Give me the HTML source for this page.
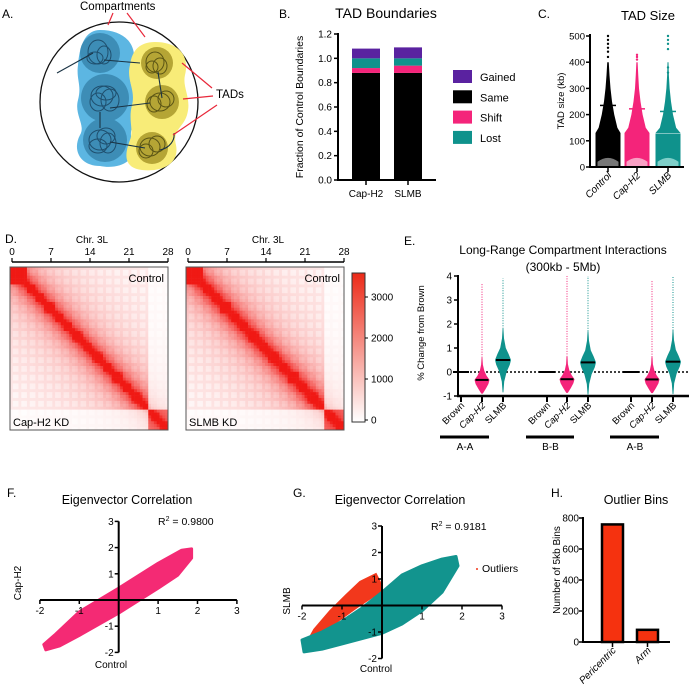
<!DOCTYPE html>
<html><head><meta charset="utf-8">
<style>
html,body{margin:0;padding:0;background:#fff;}
svg{display:block;font-family:"Liberation Sans",sans-serif;}
</style></head>
<body>
<svg id="fig" width="689" height="689" viewBox="0 0 689 689" xmlns="http://www.w3.org/2000/svg">
<g>
  <text x="2" y="18" font-size="12">A.</text>
  <text x="80" y="10" font-size="11.5">Compartments</text>
  <ellipse cx="119" cy="102" rx="79" ry="80" fill="none" stroke="#111" stroke-width="1.3"/>
  <path d="M100,30 C125,30 140,45 132,70 C125,85 140,95 138,110 C136,125 128,128 132,140 C140,160 120,170 100,166 C80,166 72,150 80,135 C86,125 74,115 78,100 C82,85 76,80 78,65 C80,40 88,30 100,30 Z" fill="#5cb6e2"/>
  <path d="M155,42 C178,42 190,55 185,75 C182,88 192,98 187,115 C183,128 172,130 176,145 C180,165 160,172 142,170 C124,168 124,155 130,140 C134,130 128,120 132,105 C136,90 126,80 130,65 C132,50 140,42 155,42 Z" fill="#f8ec78"/>
  <circle cx="100" cy="53" r="20" fill="#3d8db6"/>
  <circle cx="105" cy="98" r="24" fill="#3d8db6"/>
  <circle cx="105" cy="140" r="22" fill="#3d8db6"/>
  <circle cx="157" cy="63" r="16" fill="#b5a535"/>
  <circle cx="162" cy="102" r="17" fill="#b5a535"/>
  <circle cx="152" cy="148" r="16" fill="#b5a535"/>
  <g fill="none" stroke="#1f4f6e" stroke-width="1">
    <ellipse cx="98" cy="52" rx="10" ry="12"/><ellipse cx="104" cy="55" rx="7" ry="9"/><ellipse cx="95" cy="58" rx="8" ry="6"/>
    <ellipse cx="102" cy="96" rx="11" ry="10"/><ellipse cx="110" cy="100" rx="9" ry="11"/><ellipse cx="98" cy="102" rx="8" ry="9"/><ellipse cx="106" cy="93" rx="10" ry="7"/>
    <ellipse cx="100" cy="140" rx="11" ry="10"/><ellipse cx="108" cy="143" rx="8" ry="10"/><ellipse cx="98" cy="146" rx="9" ry="7"/><ellipse cx="106" cy="136" rx="9" ry="8"/>
  </g>
  <g fill="none" stroke="#5b5515" stroke-width="1">
    <ellipse cx="155" cy="62" rx="9" ry="10"/><ellipse cx="160" cy="66" rx="7" ry="8"/><ellipse cx="152" cy="67" rx="6" ry="6"/>
    <ellipse cx="160" cy="102" rx="10" ry="9"/><ellipse cx="166" cy="99" rx="8" ry="8"/><ellipse cx="154" cy="104" rx="7" ry="8"/>
    <ellipse cx="150" cy="147" rx="10" ry="9"/><ellipse cx="157" cy="144" rx="8" ry="8"/><ellipse cx="146" cy="151" rx="7" ry="7"/>
  </g>
  <path d="M57,73 L93,53 M104,60 L140,63 M158,72 L162,98 M150,103 L110,108 M100,112 L100,128 M110,142 L145,148 M160,150 C170,148 175,140 174,133" fill="none" stroke="#1a3344" stroke-width="1.1"/>
  <g stroke="#e8283a" stroke-width="1.2">
    <line x1="113" y1="13" x2="108" y2="25"/><line x1="127" y1="13" x2="145" y2="37"/>
    <line x1="182" y1="63" x2="212" y2="88"/><line x1="183" y1="99" x2="213" y2="96"/><line x1="173" y1="135" x2="217" y2="105"/>
  </g>
  <text x="216" y="98" font-size="11.5">TADs</text>
</g>

<g id="panelB">
  <text x="279" y="18" font-size="12">B.</text>
  <text x="386" y="18" font-size="14" text-anchor="middle">TAD Boundaries</text>
  <text transform="translate(303,107) rotate(-90)" font-size="10.5" text-anchor="middle">Fraction of Control Boundaries</text>
</g>
<g id="panelC">
  <text x="538" y="18" font-size="12">C.</text>
  <text x="648" y="20" font-size="13" text-anchor="middle">TAD Size</text>
  <text transform="translate(564,101) rotate(-90)" font-size="9.5" text-anchor="middle">TAD size (kb)</text>
</g>
<g id="panelD">
  <text x="5" y="243" font-size="12">D.</text>
</g>
<g id="panelE">
  <text x="404" y="245" font-size="12">E.</text>
  <text x="563" y="254" font-size="12" text-anchor="middle">Long-Range Compartment Interactions</text>
  <text x="563" y="271" font-size="12" text-anchor="middle">(300kb - 5Mb)</text>
  <text transform="translate(424,333) rotate(-90)" font-size="9.5" text-anchor="middle">% Change from Brown</text>
</g>
<g id="panelF">
  <text x="7" y="497" font-size="12">F.</text>
  <text x="127" y="504" font-size="12.5" text-anchor="middle">Eigenvector Correlation</text>
</g>
<g id="panelG">
  <text x="293" y="497" font-size="12">G.</text>
  <text x="400" y="504" font-size="12.5" text-anchor="middle">Eigenvector Correlation</text>
</g>
<g id="panelH">
  <text x="551" y="497" font-size="12">H.</text>
  <text x="636" y="504" font-size="12.5" text-anchor="middle">Outlier Bins</text>
  <text transform="translate(560,570) rotate(-90)" font-size="10" text-anchor="middle">Number of 5kb Bins</text>
</g>
</svg>
<script>
const NS='http://www.w3.org/2000/svg';
// ---------- data ----------
const bCategories=['Cap-H2','SLMB'];
const bSame=[0.88,0.88];
const bShift=[0.04,0.06];
const bLost=[0.08,0.06];
const bGained=[0.08,0.09];
const bTicks=[0,0.2,0.4,0.6,0.8,1.0,1.2];
const bLegend=['Gained','Same','Shift','Lost'];

const cCategories=['Control','Cap-H2','SLMB'];
const cMedian=[130,130,128];
const cSD=[235,222,212];
const cDensVals=[130,150,200,250,300,350,400];
const cDensW=[[1,0.75,0.5,0.32,0.2,0.12,0.06],[1,0.7,0.45,0.28,0.16,0.1,0.05],[1,0.65,0.4,0.24,0.13,0.07,0.04]];
const cOutliers=[[420,440,455,470,485,500],[410,420,428],[360,380,450,470,485,500]];
const cTicks=[0,100,200,300,400,500];

const dTicks=[0,7,14,21,28];
const dTadBounds=[0,3,6,9,12,16,19,22,26,29,33,36,40,43,47,50,53,56];
const dCbarTicks=[0,1000,2000,3000];

const eGroups=['A-A','B-B','A-B'];
const eConds=['Brown','Cap-H2','SLMB'];
const eMedCap=[-0.33,-0.3,-0.31];
const eMedSlmb=[0.5,0.4,0.43];
const eCapMax=[3.7,4.0,3.8];
const eSlmbMax=[3.9,4.0,4.0];
const eViolinCapVals=[-0.9,-0.7,-0.5,-0.33,-0.15,0.05,0.3,0.6];
const eViolinCapDens=[0.1,0.5,0.85,1,0.6,0.3,0.12,0.06];
const eViolinSlmbVals=[-0.85,-0.4,0,0.3,0.5,0.75,1.0,1.4,1.8];
const eViolinSlmbDens=[0.05,0.15,0.45,0.85,1,0.7,0.35,0.12,0.05];
const eTicks=[-1,0,1,2,3,4];

const fUpperX=[-1.9,-1.6,-1,0,1,1.6,1.85];
const fUpperY=[-1.7,-1.3,-0.45,0.45,1.4,1.9,1.95];
const fLowerX=[-1.85,-1.5,-1,0,1,1.5,1.85];
const fLowerY=[-1.9,-1.75,-1.35,-0.5,0.45,0.95,1.6];
const gTealUpperX=[-2,-1.5,-1,-0.5,0,0.5,1,1.5,1.85];
const gTealUpperY=[-1.3,-1.0,-0.6,-0.1,0.5,1.15,1.5,1.75,1.85];
const gTealLowerX=[-1.95,-1.5,-1,0,0.5,1,1.5,1.9];
const gTealLowerY=[-1.75,-1.65,-1.45,-1.05,-0.7,-0.2,0.5,1.5];
const gRedX=[-1.9,-1.7,-1.3,-0.9,-0.55,-0.15,-0.05,0,-0.6,-1.2,-1.7];
const gRedY=[-1.45,-0.9,-0.2,0.4,0.9,1.2,0.9,0.55,-0.05,-0.7,-1.2];
const sTicks=[-2,-1,1,2,3];

const hCategories=['Pericentric','Arm'];
const hValues=[765,85];
const hTicks=[0,200,400,600,800];

// ---------- helpers ----------
function el(tag,attrs,parent){const e=document.createElementNS(NS,tag);for(const k in attrs)e.setAttribute(k,attrs[k]);(parent||svg).appendChild(e);return e;}
function txt(s,attrs,parent){const e=el('text',attrs,parent);e.textContent=s;return e;}
const svg=document.getElementById('fig');

// ---------- Panel B ----------
(function(){
const g=document.getElementById('panelB');
const y=v=>180-v/1.2*146, x0=338;
const bx=[352,394], bw=28;
el('line',{x1:x0,y1:33,x2:x0,y2:180,stroke:'#000','stroke-width':2},g);
el('line',{x1:x0-1,y1:180,x2:436,y2:180,stroke:'#000','stroke-width':2},g);
bTicks.forEach(t=>{el('line',{x1:x0-4,y1:y(t),x2:x0,y2:y(t),stroke:'#000','stroke-width':1.5},g);
 txt(t.toFixed(1),{x:x0-6,y:y(t)+3.5,'font-size':10,'text-anchor':'end'},g);});
const cols={Same:'#000',Shift:'#f4247a',Lost:'#0f928c',Gained:'#5a22a0'};
bCategories.forEach((c,i)=>{
  let base=0;
  [['Same',bSame[i]],['Shift',bShift[i]],['Lost',bLost[i]],['Gained',bGained[i]]].forEach(([k,v])=>{
    const r=el('rect',{x:bx[i],y:y(base+v),width:bw,height:y(base)-y(base+v),fill:cols[k]},g);
    
    
    base+=v;});
  el('line',{x1:bx[i]+bw/2,y1:180,x2:bx[i]+bw/2,y2:185,stroke:'#000','stroke-width':1.5},g);
  const t=txt(c,{x:bx[i]+bw/2,y:197,'font-size':10,'text-anchor':'middle'},g);
  
  
});
bLegend.forEach((k,i)=>{
  const ly=70+i*20.3;
  const r=el('rect',{x:453,y:ly,width:19,height:13,fill:cols[k]},g);
  
  
  const t=txt(k,{x:480,y:ly+11,'font-size':11},g);
  
  
});
})();

// ---------- Panel C ----------
(function(){
const g=document.getElementById('panelC');
const y=v=>167-v/500*131, x0=590;
const cx=[608,637,668], hw=12.5;
const colors=['#000','#f4247a','#0f928c'], light=['#777','#f8a0c4','#7fcfc9'];
cCategories.forEach((c,i)=>{
  const cxx=cx[i];
  const b=el('rect',{x:cxx-hw,y:y(cMedian[i]),width:hw*2,height:y(0)-y(cMedian[i]),fill:colors[i]},g);
  
  
  el('path',{d:`M${cxx-hw+2},${y(0)} L${cxx-hw+2},${y(20)} Q${cxx},${y(50)} ${cxx+hw-2},${y(20)} L${cxx+hw-2},${y(0)} Z`,fill:light[i]},g);
  let pts=[];
  cDensVals.forEach((v,k)=>pts.push([cxx-hw*cDensW[i][k],y(v)]));
  for(let k=cDensVals.length-1;k>=0;k--)pts.push([cxx+hw*cDensW[i][k],y(cDensVals[k])]);
  const p=el('polygon',{points:pts.map(q=>q.join(',')).join(' '),fill:colors[i]},g);
  
  
  cOutliers[i].forEach(v=>el('circle',{cx:cxx,cy:y(v),r:1.2,fill:colors[i]},g));
  el('line',{x1:cxx-8,y1:y(cSD[i]),x2:cxx+8,y2:y(cSD[i]),stroke:colors[i],'stroke-width':1.5},g);
  el('line',{x1:cxx,y1:167,x2:cxx,y2:172,stroke:'#000','stroke-width':1.5},g);
  const t=txt(c,{transform:`translate(${cxx+4},${176}) rotate(-45)`,'font-size':10,'text-anchor':'end','font-style':'italic'},g);
  
  
});
el('line',{x1:x0,y1:34,x2:x0,y2:167,stroke:'#000','stroke-width':2},g);
el('line',{x1:x0-1,y1:167,x2:684,y2:167,stroke:'#000','stroke-width':2},g);
cTicks.forEach(t=>{el('line',{x1:x0-4,y1:y(t),x2:x0,y2:y(t),stroke:'#000','stroke-width':1.5},g);
 txt(String(t),{x:x0-5,y:y(t)+3.5,'font-size':9.5,'text-anchor':'end'},g);});
})();

// ---------- Panel D ----------
(function(){
const g=document.getElementById('panelD');
const N=56;
function tadOf(i){let k=0;for(let j=0;j<dTadBounds.length;j++)if(i>=dTadBounds[j])k=j;return k;}
function val(i,j,kd){
  const d=Math.abs(i-j);
  let v=0.85*Math.exp(-d/4.5)+0.3*Math.exp(-d/22);
  if(d<2)v=1;
  if(tadOf(i)===tadOf(j))v+=0.15;
  if((i%3===0)||(j%3===0))v+=0.06;
  if(i<6&&j<6)v=1;
  if((i>=49)!==(j>=49))v*=0.25;
  if(i>=49&&j>=49)v=Math.max(v,0.6+0.4*Math.exp(-d/3));
  if(kd)v*=1.08;
  return Math.min(1,v);
}
function col(v){const r=Math.round(255-(255-240)*v),gg=Math.round(255-(255-25)*v),b=Math.round(255-(255-20)*v);return `rgb(${r},${gg},${b})`;}
[[10,'Cap-H2 KD',false],[186,'SLMB KD',true]].forEach(([x0,lab,kd],m)=>{
  const w=158,h=163,y0=267;
  const hg=el('g',{},g);
  
  
  const cw=w/N,ch=h/N;
  for(let i=0;i<N;i++)for(let j=0;j<N;j++){
    el('rect',{x:(x0+j*cw).toFixed(2),y:(y0+i*ch).toFixed(2),width:(cw+0.3).toFixed(2),height:(ch+0.3).toFixed(2),fill:col(val(i,j,kd))},hg);
  }
  el('rect',{x:x0,y:y0,width:w,height:h,fill:'none',stroke:'#555','stroke-width':1},g);
  txt('Control',{x:x0+w-4,y:y0+15,'font-size':11,'text-anchor':'end'},g);
  txt(lab,{x:x0+3,y:y0+h-4,'font-size':11},g);
  const ax=el('g',{},g);
  
  
  el('line',{x1:x0+2,y1:262,x2:x0+w,y2:262,stroke:'#000','stroke-width':1.5},ax);
  dTicks.forEach(t=>{const xx=x0+2+t/28*(w-2);el('line',{x1:xx,y1:258,x2:xx,y2:262,stroke:'#000','stroke-width':1.2},ax);
    txt(String(t),{x:xx,y:255,'font-size':10,'text-anchor':'middle'},ax);});
  txt('Chr. 3L',{x:x0+82,y:243,'font-size':10,'text-anchor':'middle'},ax);
});
const defs=el('defs',{},svg);
const lg=el('linearGradient',{id:'cb',x1:0,y1:1,x2:0,y2:0},defs);
el('stop',{offset:0,'stop-color':'#fff'},lg);el('stop',{offset:1,'stop-color':'#ec2a18'},lg);
const cb=el('rect',{x:352,y:273,width:13,height:149,fill:'url(#cb)',stroke:'#333','stroke-width':1},g);


const cy=v=>420-v/3000*123;
dCbarTicks.forEach(t=>{el('line',{x1:365,y1:cy(t),x2:368,y2:cy(t),stroke:'#000'},g);
  txt(String(t),{x:371,y:cy(t)+3.5,'font-size':10},g);});
})();

// ---------- Panel E ----------
(function(){
const g=document.getElementById('panelE');
const y=v=>372-v*24, x0=458;
const groupX=[[461,482,503],[547,567,588],[631,652,673]];
el('line',{x1:x0,y1:275,x2:x0,y2:396,stroke:'#000','stroke-width':2},g);
el('line',{x1:x0-1,y1:396,x2:689,y2:396,stroke:'#000','stroke-width':2.5},g);
el('line',{x1:x0,y1:y(0),x2:689,y2:y(0),stroke:'#000','stroke-width':1.5,'stroke-dasharray':'2,2'},g);
eTicks.forEach(t=>{el('line',{x1:x0-4,y1:y(t),x2:x0,y2:y(t),stroke:'#000','stroke-width':1.5},g);
  txt(String(t),{x:x0-6,y:y(t)+3.5,'font-size':10,'text-anchor':'end'},g);});
function violin(cx,vals,dens,refMed,med,maxv,color,hw,name){
  const pts=[];
  vals.forEach((v,k)=>pts.push([cx-hw*dens[k],y(v+med-refMed)]));
  for(let k=vals.length-1;k>=0;k--)pts.push([cx+hw*dens[k],y(vals[k]+med-refMed)]);
  const p=el('polygon',{points:pts.map(q=>q[0].toFixed(1)+','+q[1].toFixed(1)).join(' '),fill:color},g);
  
  
  el('line',{x1:cx,y1:y(vals[vals.length-1]+med-refMed),x2:cx,y2:y(maxv),stroke:color,'stroke-width':1,'stroke-dasharray':'1,1.5'},g);
  el('line',{x1:cx-hw+1,y1:y(med),x2:cx+hw-1,y2:y(med),stroke:'#000','stroke-width':2},g);
}
eGroups.forEach((gr,i)=>{
  const [bx,cx,sx]=groupX[i];
  el('line',{x1:bx-8,y1:y(0),x2:bx+8,y2:y(0),stroke:'#000','stroke-width':2},g);
  violin(cx,eViolinCapVals,eViolinCapDens,-0.33,eMedCap[i],eCapMax[i],'#f4247a',7.5,'violin-caph2-'+gr.toLowerCase());
  violin(sx,eViolinSlmbVals,eViolinSlmbDens,0.5,eMedSlmb[i],eSlmbMax[i],'#0f928c',8,'violin-slmb-'+gr.toLowerCase());
  [bx,cx,sx].forEach((xx,k)=>{
    el('line',{x1:xx,y1:396,x2:xx,y2:402,stroke:'#000','stroke-width':2},g);
    txt(eConds[k],{transform:`translate(${xx+4},${406}) rotate(-45)`,'font-size':9.5,'text-anchor':'end','font-style':k==1?'italic':'normal'},g);
  });
  el('line',{x1:bx-21,y1:437,x2:sx-14,y2:437,stroke:'#000','stroke-width':3},g);
  const t=txt(gr,{x:(bx+sx)/2-17,y:450,'font-size':10,'text-anchor':'middle'},g);
  
  
});
})();

// ---------- Scatter panels ----------
function scatterAxes(g,X,Y){
  el('line',{x1:X(0),y1:Y(3),x2:X(0),y2:Y(-2),stroke:'#000','stroke-width':2},g);
  el('line',{x1:X(-2),y1:Y(0),x2:X(3),y2:Y(0),stroke:'#000','stroke-width':2},g);
  sTicks.forEach(t=>{
    el('line',{x1:X(t),y1:Y(0),x2:X(t),y2:Y(0)+4,stroke:'#000','stroke-width':1.5},g);
    txt(String(t),{x:X(t),y:Y(0)+14,'font-size':10,'text-anchor':'middle'},g);
    el('line',{x1:X(0)-4,y1:Y(t),x2:X(0),y2:Y(t),stroke:'#000','stroke-width':1.5},g);
    txt(String(t),{x:X(0)-5,y:Y(t)+3.5,'font-size':10,'text-anchor':'end'},g);
  });
}
function band(g,ux,uy,lx,ly,X,Y,color,name){
  const pts=[];
  lx.forEach((v,k)=>pts.push([X(v),Y(ly[k])]));
  for(let k=ux.length-1;k>=0;k--)pts.push([X(ux[k]),Y(uy[k])]);
  const p=el('polygon',{points:pts.map(q=>q[0].toFixed(1)+','+q[1].toFixed(1)).join(' '),fill:color,stroke:color,'stroke-width':3,'stroke-linejoin':'round'},g);
  
  
}
(function(){
const g=document.getElementById('panelF');
const X=v=>118.7+v*39.4, Y=v=>600-v*26.2;
band(g,fUpperX,fUpperY,fLowerX,fLowerY,X,Y,'#f42a74','scatter-caph2');
scatterAxes(g,X,Y);
const r=txt('R',{x:158,y:525,'font-size':10.5},g);
const s=el('tspan',{dy:-4,'font-size':7},r);s.textContent='2';
const s2=el('tspan',{dy:4},r);s2.textContent=' = 0.9800';
txt('Cap-H2',{transform:'translate(21,583) rotate(-90)','font-size':10,'text-anchor':'middle'},g);
txt('Control',{x:111,y:668,'font-size':10,'text-anchor':'middle'},g);
})();
(function(){
const g=document.getElementById('panelG');
const X=v=>382+v*40, Y=v=>605.5-v*26.5;
const pts=gRedX.map((v,k)=>X(v).toFixed(1)+','+Y(gRedY[k]).toFixed(1)).join(' ');
const p=el('polygon',{points:pts,fill:'#f2381c',stroke:'#f2381c','stroke-width':1.5},g);


band(g,gTealUpperX,gTealUpperY,gTealLowerX,gTealLowerY,X,Y,'#12948e','scatter-slmb');
scatterAxes(g,X,Y);
const r=txt('R',{x:431,y:530,'font-size':10.5},g);
const s=el('tspan',{dy:-4,'font-size':7},r);s.textContent='2';
const s2=el('tspan',{dy:4},r);s2.textContent=' = 0.9181';
el('circle',{cx:477,cy:569,r:1,fill:'#f2381c'},g);
const lt=txt('Outliers',{x:482,y:572,'font-size':10.5},g);


txt('SLMB',{transform:'translate(290,601) rotate(-90)','font-size':10,'text-anchor':'middle'},g);
txt('Control',{x:376,y:672,'font-size':10,'text-anchor':'middle'},g);
})();

// ---------- Panel H ----------
(function(){
const g=document.getElementById('panelH');
const y=v=>642-v/800*124, x0=583;
const bx=[601,636], bw=23;
hCategories.forEach((c,i)=>{
  const b=el('rect',{x:bx[i]+1,y:y(hValues[i])+1,width:bw-2,height:y(0)-y(hValues[i])-1,fill:'#f5320f',stroke:'#000','stroke-width':2.5},g);
  
  
  const cx=bx[i]+bw/2;
  el('line',{x1:cx,y1:642,x2:cx,y2:647,stroke:'#000','stroke-width':1.5},g);
  txt(c,{transform:`translate(${cx+4},${651}) rotate(-45)`,'font-size':10,'text-anchor':'end','font-style':'italic'},g);
});
el('line',{x1:x0,y1:517,x2:x0,y2:642,stroke:'#000','stroke-width':2},g);
el('line',{x1:x0-1,y1:642,x2:670,y2:642,stroke:'#000','stroke-width':2},g);
hTicks.forEach(t=>{el('line',{x1:x0-4,y1:y(t),x2:x0,y2:y(t),stroke:'#000','stroke-width':1.5},g);
  txt(String(t),{x:x0-4,y:y(t)+3.5,'font-size':10,'text-anchor':'end'},g);});
})();
</script>
</body></html>
